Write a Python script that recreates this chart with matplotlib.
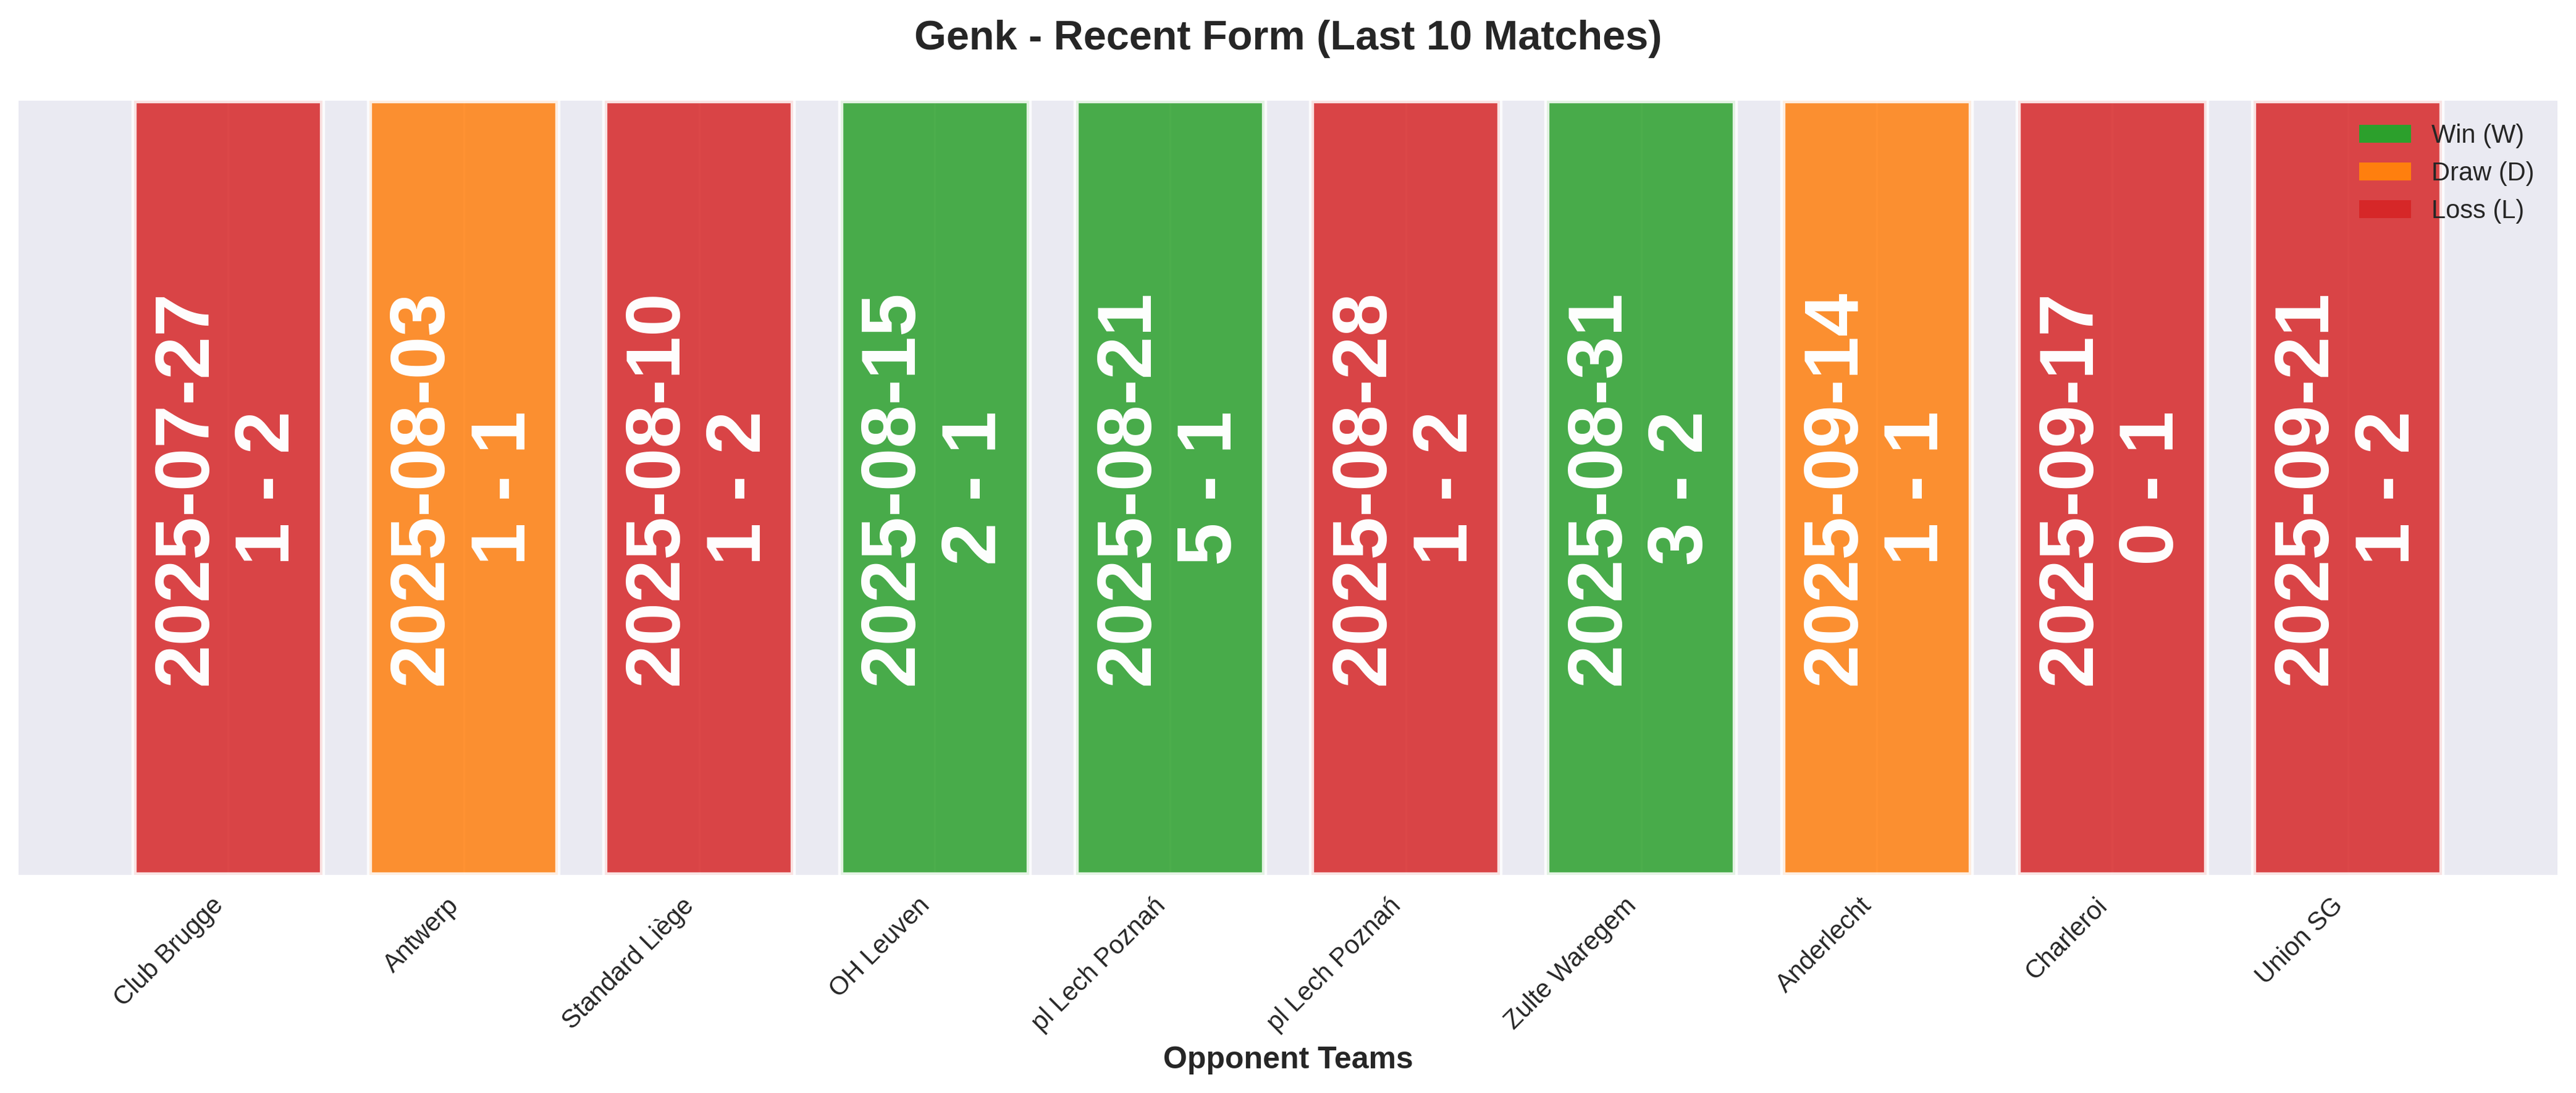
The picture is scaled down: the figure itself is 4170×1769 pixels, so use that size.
import matplotlib
matplotlib.use('Agg')
import matplotlib.pyplot as plt
from matplotlib.patches import Patch

plt.style.use('seaborn-v0_8-darkgrid')
plt.rcParams['font.family'] = ['Liberation Sans', 'DejaVu Sans']

# last 10 matches of Genk
opponents = ['Club Brugge', 'Antwerp', 'Standard Liège', 'OH Leuven', 'pl Lech Poznań',
             'pl Lech Poznań', 'Zulte Waregem', 'Anderlecht', 'Charleroi', 'Union SG']
dates = ['2025-07-27', '2025-08-03', '2025-08-10', '2025-08-15', '2025-08-21',
         '2025-08-28', '2025-08-31', '2025-09-14', '2025-09-17', '2025-09-21']
scores = ['1 - 2', '1 - 1', '1 - 2', '2 - 1', '5 - 1', '1 - 2', '3 - 2', '1 - 1', '0 - 1', '1 - 2']
results = ['L', 'D', 'L', 'W', 'W', 'L', 'W', 'D', 'L', 'L']

result_colors = {'W': '#2ca02c', 'D': '#ff7f0e', 'L': '#d62728'}
colors = [result_colors[r] for r in results]

fig = plt.figure(figsize=(13.9, 5.897), dpi=300)
ax = fig.add_axes([0.0072, 0.1995, 0.9856, 0.7084])

x = list(range(len(opponents)))
ax.bar(x, [1] * len(x), color=colors, alpha=0.85, edgecolor='white', linewidth=2)

for i in x:
    ax.text(i, 0.5, f'{dates[i]}\n{scores[i]}', ha='center', va='center',
            fontsize=30, fontweight='bold', color='white', rotation=90)

ax.set_ylim(0, 1)
ax.set_yticks([])
ax.set_xticks(x)
ax.set_xticklabels(opponents, rotation=45, ha='right', fontsize=10)
ax.tick_params(axis='x', pad=7)
ax.set_xlabel('Opponent Teams', fontsize=12, fontweight='bold')
ax.set_title('Genk - Recent Form (Last 10 Matches)', fontsize=16, fontweight='bold', pad=20)

handles = [Patch(facecolor=result_colors['W'], label='Win (W)'),
           Patch(facecolor=result_colors['D'], label='Draw (D)'),
           Patch(facecolor=result_colors['L'], label='Loss (L)')]
ax.legend(handles=handles, loc='upper right', fontsize=10)

fig.savefig('out.png', dpi=300)
